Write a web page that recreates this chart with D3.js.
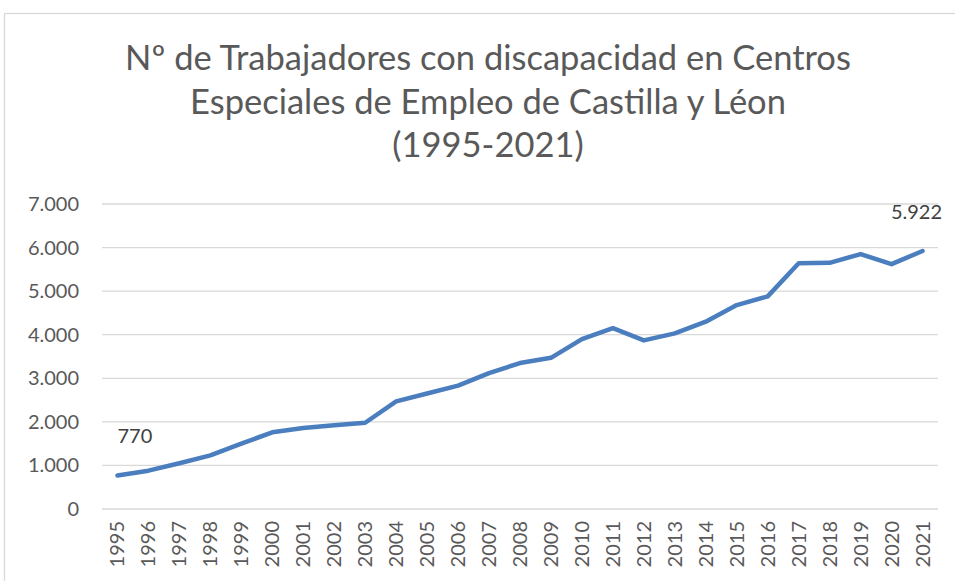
<!DOCTYPE html>
<html>
<head>
<meta charset="utf-8" />
<title>Trabajadores con discapacidad CEE Castilla y León</title>
<script src="https://cdn.jsdelivr.net/npm/d3@7"></script>
<style>
body { margin: 0; background: #fff; }
text { font-family: Lato, "Open Sans", sans-serif; }
.grid line { stroke: #d9d9d9; stroke-width: 1.3px; }
.title { fill: #595959; }
.tick-label { fill: #595959; }
.data-label { fill: #404040; }
</style>
</head>
<body>
<script>
var years = ["1995","1996","1997","1998","1999","2000","2001","2002","2003","2004",
    "2005","2006","2007","2008","2009","2010","2011","2012","2013","2014",
    "2015","2016","2017","2018","2019","2020","2021"];
var workers = [770, 880, 1050, 1230, 1500, 1760, 1860, 1920, 1980, 2470,
    2650, 2830, 3120, 3350, 3470, 3900, 4150, 3870, 4030, 4300,
    4680, 4880, 5640, 5650, 5850, 5620, 5922];
var yTicks = [0, 1000, 2000, 3000, 4000, 5000, 6000, 7000];
var titleLines = ["Nº de Trabajadores con discapacidad en Centros",
    "Especiales de Empleo de Castilla y Léon",
    "(1995-2021)"];

var width = 955, height = 581;
var svg = d3.select("body").append("svg")
    .attr("width", width)
    .attr("height", height);

// chart frame (only left and top edges visible in the crop)
svg.append("rect")
    .attr("x", 4.5).attr("y", 13.5)
    .attr("width", 1000).attr("height", 1000)
    .attr("fill", "none")
    .attr("stroke", "#d9d9d9")
    .attr("stroke-width", 1.3);

svg.selectAll(".title")
    .data(titleLines)
  .enter().append("text")
    .attr("class", "title")
    .attr("x", 488)
    .attr("y", function(d, i) { return 70 + i * 43.5; })
    .attr("text-anchor", "middle")
    .style("font-size", "34.5px")
    .text(function(d) { return d; });

var x = d3.scalePoint()
    .domain(years)
    .range([102, 938])
    .padding(0.5);

var y = d3.scaleLinear()
    .domain([0, 7000])
    .range([509, 204]);

var fmt = function(v) { return d3.format(",")(v).replace(/,/g, "."); };

var grid = svg.append("g").attr("class", "grid");
grid.selectAll("line")
    .data(yTicks)
  .enter().append("line")
    .attr("x1", 102).attr("x2", 938)
    .attr("y1", function(d) { return y(d); })
    .attr("y2", function(d) { return y(d); });

svg.selectAll(".ytick")
    .data(yTicks)
  .enter().append("text")
    .attr("class", "tick-label ytick")
    .attr("x", 79)
    .attr("y", function(d) { return y(d); })
    .attr("dy", "0.35em")
    .attr("text-anchor", "end")
    .style("font-size", "20px")
    .text(fmt);

svg.selectAll(".xtick")
    .data(years)
  .enter().append("text")
    .attr("class", "tick-label xtick")
    .attr("transform", function(d) { return "translate(" + x(d) + ",521) rotate(-90)"; })
    .attr("dy", "0.35em")
    .attr("text-anchor", "end")
    .style("font-size", "20px")
    .text(function(d) { return d; });

var line = d3.line()
    .x(function(d, i) { return x(years[i]); })
    .y(function(d) { return y(d); });

svg.append("path")
    .datum(workers)
    .attr("d", line)
    .attr("fill", "none")
    .attr("stroke", "#4a7ebf")
    .attr("stroke-width", 4.5)
    .attr("stroke-linejoin", "round")
    .attr("stroke-linecap", "round");

// labels on first and last points
var first = 0, last = workers.length - 1;
svg.append("text")
    .attr("class", "data-label")
    .attr("x", x(years[first]))
    .attr("y", y(workers[first]) - 32)
    .style("font-size", "20px")
    .text(fmt(workers[first]));

svg.append("text")
    .attr("class", "data-label")
    .attr("x", x(years[last]) - 6)
    .attr("y", y(workers[last]) - 32)
    .attr("text-anchor", "middle")
    .style("font-size", "20px")
    .text(fmt(workers[last]));
</script>
</body>
</html>
